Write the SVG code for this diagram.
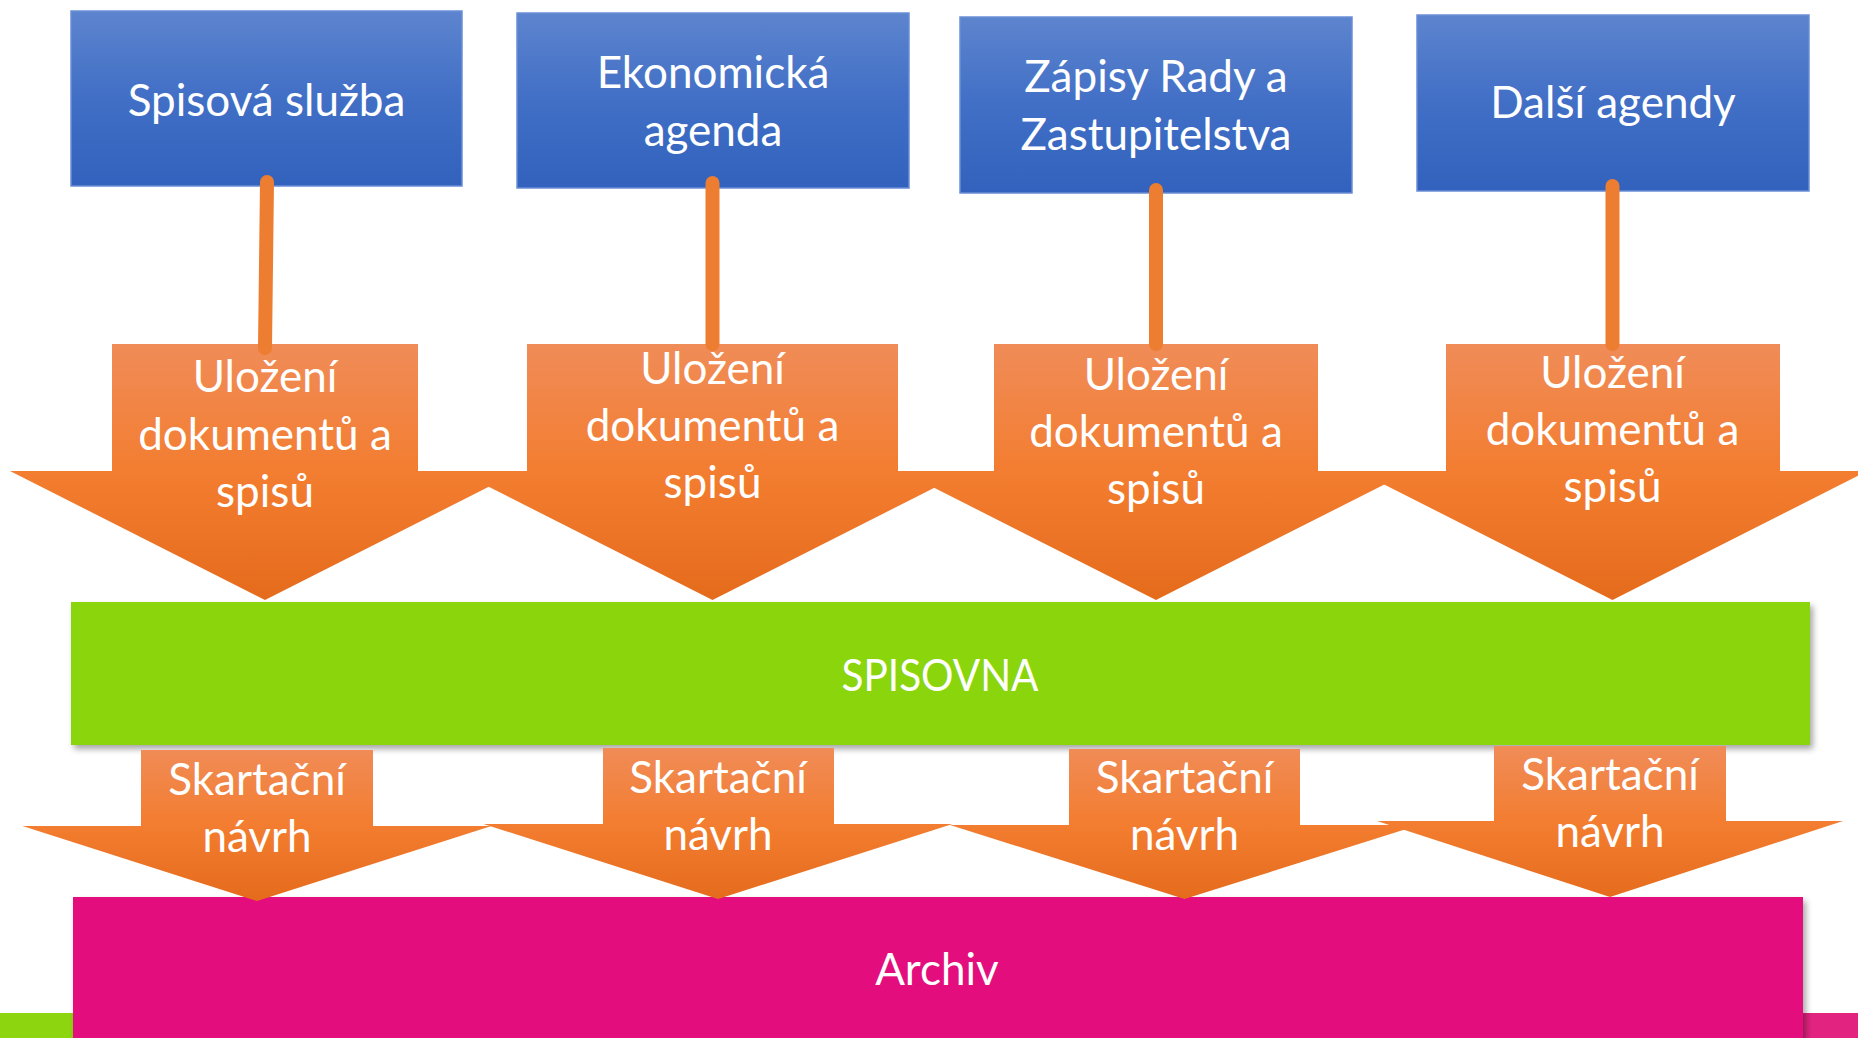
<svg xmlns="http://www.w3.org/2000/svg" width="1858" height="1038" viewBox="0 0 1858 1038">
  <defs>
    <linearGradient id="gBlue" x1="0" y1="0" x2="0" y2="1">
      <stop offset="0" stop-color="#5D84CE"/>
      <stop offset="0.5" stop-color="#416FC6"/>
      <stop offset="1" stop-color="#3262BD"/>
    </linearGradient>
    <linearGradient id="gOrTop" gradientUnits="userSpaceOnUse" x1="0" y1="344" x2="0" y2="600">
      <stop offset="0" stop-color="#F08C58"/>
      <stop offset="0.5" stop-color="#F37D30"/>
      <stop offset="1" stop-color="#E56B1C"/>
    </linearGradient>
    <linearGradient id="gOrBot" gradientUnits="userSpaceOnUse" x1="0" y1="746" x2="0" y2="901">
      <stop offset="0" stop-color="#F08C58"/>
      <stop offset="0.5" stop-color="#F37D30"/>
      <stop offset="1" stop-color="#E56B1C"/>
    </linearGradient>
    <filter id="shadow" x="-5%" y="-20%" width="110%" height="150%">
      <feDropShadow dx="3" dy="4" stdDeviation="3" flood-color="#000" flood-opacity="0.35"/>
    </filter>
  </defs>
  <style>
    .box { fill: url(#gBlue); stroke: #6A8ED6; stroke-width: 1.5; }
    .arrT { fill: url(#gOrTop); }
    .arrB { fill: url(#gOrBot); }
    .t { font-family: Lato, "Open Sans", "Liberation Sans", sans-serif; font-size: 44px; fill: #FFFFFF; text-anchor: middle; }
    .conn { stroke: #ED7D31; stroke-width: 14; stroke-linecap: round; fill: none; }
  </style>

  <!-- slide decoration strips -->
  <rect x="0" y="1013" width="74" height="25" fill="#8CD50F"/>
  <rect x="1803" y="1013" width="55" height="25" fill="#E2237F"/>

  <!-- top boxes -->
  <g id="box-spisova">
    <rect class="box" x="71" y="11" width="391" height="175"/>
    <text class="t" x="266.5" y="116">Spisová služba</text>
  </g>
  <g id="box-ekonomicka">
    <rect class="box" x="517" y="13" width="392" height="175"/>
    <text class="t" x="713" y="88">Ekonomická</text>
    <text class="t" x="713" y="146">agenda</text>
  </g>
  <g id="box-zapisy">
    <rect class="box" x="960" y="17" width="392" height="176"/>
    <text class="t" x="1156" y="92">Zápisy Rady a</text>
    <text class="t" x="1156" y="150">Zastupitelstva</text>
  </g>
  <g id="box-dalsi">
    <rect class="box" x="1417" y="15" width="392" height="176"/>
    <text class="t" x="1613" y="118">Další agendy</text>
  </g>

  <!-- green SPISOVNA bar -->
  <g id="spisovna">
    <rect x="71" y="602" width="1739" height="143" fill="#8BD50F" filter="url(#shadow)"/>
    <text class="t" x="940" y="691" textLength="197" lengthAdjust="spacingAndGlyphs">SPISOVNA</text>
  </g>

  <!-- pink Archiv bar -->
  <g id="archiv">
    <rect x="73" y="897" width="1730" height="160" fill="#E30B7E" filter="url(#shadow)"/>
    <text class="t" x="937" y="985">Archiv</text>
  </g>

  <!-- top arrows -->
  <g id="arrow-ulozeni-1">
    <polygon class="arrT" points="112,344 418,344 418,471 520,471 265,600 10,471 112,471"/>
    <text class="t" x="265" y="392">Uložení</text>
    <text class="t" x="265" y="450">dokumentů a</text>
    <text class="t" x="265" y="507">spisů</text>
  </g>
  <g id="arrow-ulozeni-2">
    <polygon class="arrT" points="527,344 898,344 898,471 967.5,471 712.5,600 457.5,471 527,471"/>
    <text class="t" x="712.5" y="384">Uložení</text>
    <text class="t" x="712.5" y="441">dokumentů a</text>
    <text class="t" x="712.5" y="498">spisů</text>
  </g>
  <g id="arrow-ulozeni-3">
    <polygon class="arrT" points="994,344 1318,344 1318,471 1411,471 1156,600 901,471 994,471"/>
    <text class="t" x="1156" y="390">Uložení</text>
    <text class="t" x="1156" y="447">dokumentů a</text>
    <text class="t" x="1156" y="504">spisů</text>
  </g>
  <g id="arrow-ulozeni-4">
    <polygon class="arrT" points="1446,344 1780,344 1780,471 1867.5,471 1612.5,600 1357.5,471 1446,471"/>
    <text class="t" x="1612.5" y="388">Uložení</text>
    <text class="t" x="1612.5" y="445">dokumentů a</text>
    <text class="t" x="1612.5" y="502">spisů</text>
  </g>

  <!-- bottom arrows -->
  <g id="arrow-skartacni-1">
    <polygon class="arrB" points="141,750 373,750 373,826 491.5,826 257,901 22.5,826 141,826"/>
    <text class="t" x="257" y="795">Skartační</text>
    <text class="t" x="257" y="852">návrh</text>
  </g>
  <g id="arrow-skartacni-2">
    <polygon class="arrB" points="603,748 834,748 834,824 952.5,824 718,899 483.5,824 603,824"/>
    <text class="t" x="718" y="793">Skartační</text>
    <text class="t" x="718" y="850">návrh</text>
  </g>
  <g id="arrow-skartacni-3">
    <polygon class="arrB" points="1069,749 1300,749 1300,825 1419,825 1184.5,899 950,825 1069,825"/>
    <text class="t" x="1184.5" y="793">Skartační</text>
    <text class="t" x="1184.5" y="850">návrh</text>
  </g>
  <g id="arrow-skartacni-4">
    <polygon class="arrB" points="1494,746 1726,746 1726,821 1843,821 1610,897 1377,821 1494,821"/>
    <text class="t" x="1610" y="790">Skartační</text>
    <text class="t" x="1610" y="847">návrh</text>
  </g>

  <!-- connectors -->
  <g id="connectors">
    <line class="conn" x1="267" y1="182" x2="265" y2="348"/>
    <line class="conn" x1="712.5" y1="183" x2="712.5" y2="344"/>
    <line class="conn" x1="1156" y1="190" x2="1156" y2="344"/>
    <line class="conn" x1="1612.5" y1="186" x2="1612.5" y2="344"/>
  </g>
</svg>
